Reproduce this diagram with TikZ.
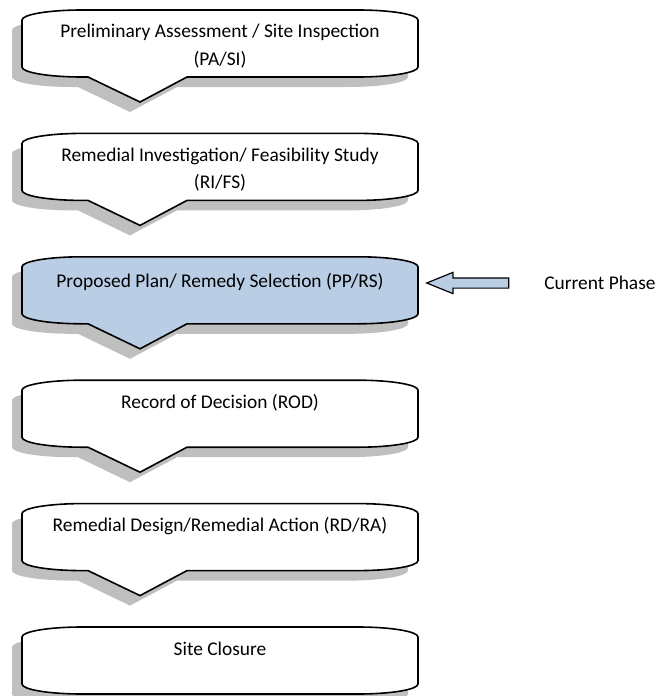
\documentclass[tikz,border=0pt]{standalone}
\usepackage{fontspec}
\setmainfont{Carlito}
\usetikzlibrary{shapes.arrows, positioning}
\definecolor{phaseblue}{RGB}{185,205,229}
\tikzstyle{shadow2} = [fill=black!25, shift={(-10,10)}]
\tikzstyle{phase2} = [draw=black, line width=0.8pt, fill=white]
\tikzstyle{current2} = [phase2, fill=phaseblue]
\tikzstyle{text2} = [font=\fontsize{9.7}{13.5}\selectfont, align=center, anchor=base, inner sep=0pt]
\tikzstyle{arrow2} = [single arrow, draw=black, line width=0.6pt, fill=phaseblue, rotate=180, minimum height=41pt, inner sep=2.25pt, single arrow head extend=2.75pt, single arrow tip angle=44]

% callout box with a point below, #1 = top edge
\newcommand{\calloutpath}[1]{(22,#1+57) -- (22,#1+10)
  arc[start angle=180, end angle=270, x radius=60, y radius=10] -- (358,#1)
  arc[start angle=270, end angle=360, x radius=60, y radius=10] -- (418,#1+57)
  arc[start angle=0, end angle=90, x radius=60, y radius=10] -- (187,#1+67)
  -- (140,#1+92) -- (88,#1+67) -- (82,#1+67)
  arc[start angle=90, end angle=180, x radius=60, y radius=10] -- cycle}
% last box, no point
\newcommand{\closingpath}[1]{(22,#1+57) -- (22,#1+10)
  arc[start angle=180, end angle=270, x radius=60, y radius=10] -- (358,#1)
  arc[start angle=270, end angle=360, x radius=60, y radius=10] -- (418,#1+57)
  arc[start angle=0, end angle=90, x radius=60, y radius=10] -- (82,#1+67)
  arc[start angle=90, end angle=180, x radius=60, y radius=10] -- cycle}

\begin{document}
\begin{tikzpicture}[x=0.5pt, y=-0.5pt]
            \useasboundingbox (0,0) rectangle (657,696);

            % Draw boxes
            \fill [shadow2] \calloutpath{10};
            \filldraw [phase2] \calloutpath{10};
            \fill [shadow2] \calloutpath{133.4};
            \filldraw [phase2] \calloutpath{133.4};
            \fill [shadow2] \calloutpath{256.8};
            \filldraw [current2] \calloutpath{256.8};
            \fill [shadow2] \calloutpath{380.2};
            \filldraw [phase2] \calloutpath{380.2};
            \fill [shadow2] \calloutpath{503.6};
            \filldraw [phase2] \calloutpath{503.6};
            \fill [shadow2] \closingpath{627};
            \filldraw [phase2] \closingpath{627};

            % Place texts (base = last line)
            \node (pasi) [text2] at (220,65) {Preliminary Assessment / Site Inspection\\(PA/SI)};
            \node (rifs) [text2] at (220,188.4) {Remedial Investigation/ Feasibility Study\\(RI/FS)};
            \node (pprs) [text2] at (220,287) {Proposed Plan/ Remedy Selection (PP/RS)};
            \node (rod) [text2] at (220,408.2) {Record of Decision (ROD)};
            \node (rdra) [text2] at (220,531.6) {Remedial Design/Remedial Action (RD/RA)};
            \node (close) [text2] at (220,655) {Site Closure};

            % Current phase marker
            \node (current) [text2, anchor=west] at (544,283) {Current Phase};
            \node (nowarrow) [arrow2] at (474,283) {};
\end{tikzpicture}
\end{document}
